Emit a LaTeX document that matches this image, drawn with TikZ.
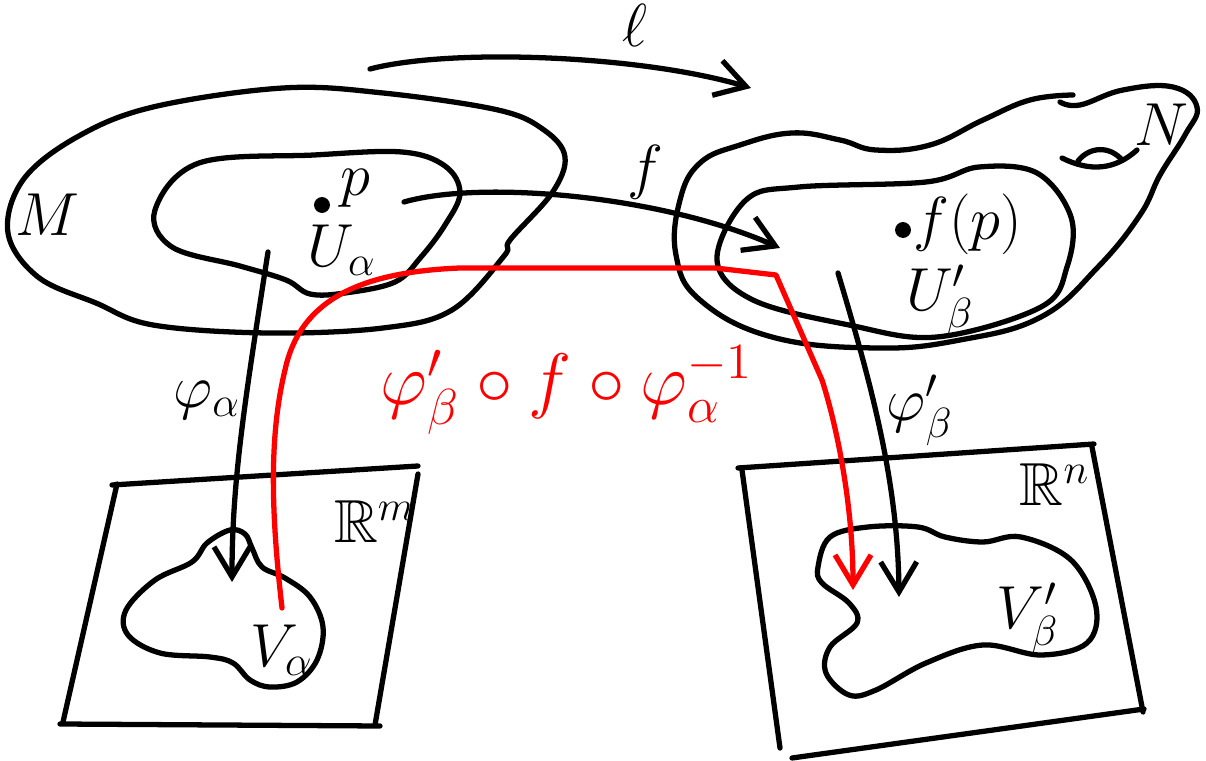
\documentclass[tikz,border=0pt]{standalone}
\usepackage{amssymb}
\usetikzlibrary{arrows.meta}

\begin{document}
\begin{tikzpicture}[x=0.01cm, y=-0.01cm, line width=1.5pt, line cap=round, line join=round,
    every node/.style={font=\LARGE, inner sep=1pt},
    blob/.style={smooth cycle, tension=0.6},
    stroke/.style={smooth, tension=0.7},
    dot/.style={circle, fill, inner sep=1.6pt},
    map/.style={-{Straight Barb[length=3mm, width=3.6mm]}},
    redmap/.style={map, red}]
  \useasboundingbox (0,0) rectangle (1206,761);
  % manifold M with chart domain U_alpha
  \draw plot[blob] coordinates {(283,88) (383,93) (498,110) (544,130) (565,157) (552,193) (510,240) (504,256) (452,310) (383,328) (268,333) (153,325) (96,303) (38,277) (8,233) (23,180) (77,137) (153,107)};
  \draw plot[blob] coordinates {(155,210) (199,163) (314,155) (402,152) (445,166) (460,193) (445,225) (421,257) (395,282) (345,293) (310,294) (286,280) (240,266) (172,247)};
  \node (mlabel) at (47,215) {$M$};
  \node[dot] (pdot) at (322,205) {};
  \node (plabel) at (355,188) {$p$};
  \node (ualpha) at (342,250) {$U_\alpha$};
  % manifold N with chart domain U'_beta
  \draw plot[stroke] coordinates {(1060,102) (1080,105) (1123,90) (1173,87) (1197,107) (1185,135) (1160,175) (1140,215) (1098,267) (1041,317) (960,340) (876,348) (772,337) (700,300) (676,255) (680,200) (700,163) (740,145) (792,133) (840,140) (876,150) (930,145) (983,120) (1030,100) (1073,95)};
  \draw (1062,158) .. controls (1090,172) and (1115,170) .. (1137,150);
  \draw (1078,161) .. controls (1090,146) and (1110,146) .. (1122,160);
  \draw plot[blob] coordinates {(717,260) (746,200) (799,187) (926,182) (979,167) (1037,173) (1071,217) (1067,267) (1041,307) (937,337) (849,325) (753,300)};
  \node (nlabel) at (1161,125) {$N$};
  \node[dot] (fpdot) at (903,230) {};
  \node (fplabel) at (968,224) {$f(p)$};
  \node (ubeta) at (940,300) {$U'_\beta$};
  % the chart images in R^m and R^n
  \draw (112,485) -- (418,466);
  \draw (418,474) -- (375,725);
  \draw (60,724) -- (380,726);
  \draw (117,484) -- (63,722);
  \draw plot[blob] coordinates {(230,530) (245,534) (252,548) (262,567) (285,578) (310,597) (323,627) (317,660) (297,682) (270,687) (250,680) (233,663) (210,657) (160,653) (128,635) (126,610) (155,580) (192,562) (207,543)};
  \node (rm) at (375,522) {$\mathbb{R}^m$};
  \node (valpha) at (282,650) {$V_\alpha$};
  \draw (738,468) -- (1094,444);
  \draw (742,470) -- (780,748);
  \draw (1092,447) -- (1143,712);
  \draw (792,758) -- (1144,709);
  \draw plot[blob] coordinates {(830,537) (868,527) (918,527) (945,537) (983,542) (1021,537) (1071,560) (1096,607) (1087,643) (1041,655) (983,645) (926,663) (876,690) (849,695) (826,673) (830,647) (857,623) (849,603) (822,583) (818,567)};
  \node (rn) at (1055,485) {$\mathbb{R}^n$};
  \node (vbeta) at (1028,618) {$V'_\beta$};
  % maps
  \coordinate (lstart) at (370,69);
  \coordinate (lend) at (751,88);
  \draw[map] (lstart) .. controls (450,48) and (640,55) .. (lend);
  \node (ell) at (635,25) {$\ell$};
  \coordinate (fstart) at (404,202);
  \coordinate (fend) at (780,248);
  \draw[map] (fstart) .. controls (480,180) and (660,195) .. (fend);
  \node (flabel) at (645,172) {$f$};
  \coordinate (phistart) at (268,252);
  \coordinate (phiend) at (232,582);
  \draw[map] (phistart) .. controls (245,400) and (232,480) .. (phiend);
  \node (phialpha) at (207,400) {$\varphi_\alpha$};
  \coordinate (psistart) at (838,273);
  \coordinate (psiend) at (899,597);
  \draw[map] (psistart) .. controls (870,380) and (898,480) .. (psiend);
  \node (phibeta) at (920,410) {$\varphi'_\beta$};
  % transition map in red
  \coordinate (redstart) at (282,608);
  \coordinate (redcorner) at (776,275);
  \coordinate (redend) at (853,590);
  \draw[redmap] (redstart) .. controls (272,520) and (268,440) .. (285,370) .. controls (300,300) and (360,272) .. (460,268) -- (715,268) -- (redcorner) -- (822,380) .. controls (835,420) and (853,500) .. (redend);
  \node[red, font=\fontsize{20}{24}\selectfont] (trans) at (567,390) {$\varphi'_\beta\circ f\circ\varphi_\alpha^{-1}$};
\end{tikzpicture}
\end{document}
